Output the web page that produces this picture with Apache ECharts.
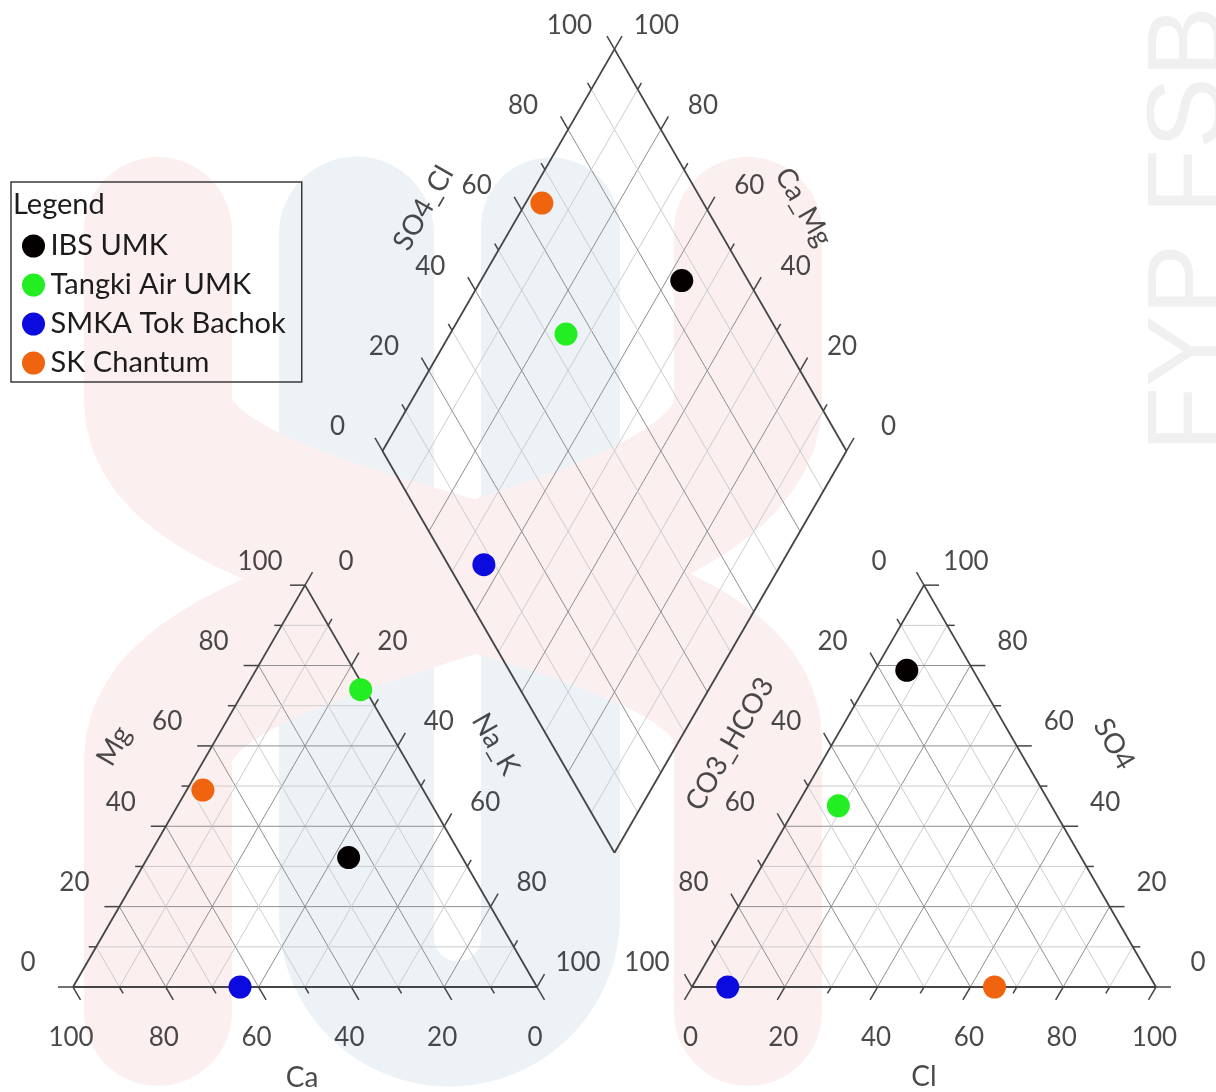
<!DOCTYPE html>
<html><head><meta charset="utf-8">
<script src="https://cdn.jsdelivr.net/npm/echarts@6/dist/echarts.min.js"></script>
<style>html,body{margin:0;padding:0;background:#fff}#c{width:1216px;height:1092px}</style>
</head><body><div id="c"></div>
<script>
// ---------------- DATA ----------------
const samples = ['IBS UMK', 'Tangki Air UMK', 'SMKA Tok Bachok', 'SK Chantum'];
const sampleColors = ['#050000', '#22ee22', '#0b0be0', '#f0640f'];
// cations (% meq)
const ca  = [24.5, 1, 64, 47.5];
const mg  = [32.2, 74, 0, 49];
const naK = [43.3, 25, 36, 3.5];
// anions (% meq)
const co3Hco3 = [14.3, 45.9, 92.3, 34.8];
const so4     = [78.8, 45.1, 0, 0];
const cl      = [6.9, 9.0, 7.7, 65.2];
// axes
const gridValues  = [10, 20, 30, 40, 50, 60, 70, 80, 90];
const tickValues  = [0, 10, 20, 30, 40, 50, 60, 70, 80, 90, 100];
const labelValues = [0, 20, 40, 60, 80, 100];

// ---------------- LAYOUT ----------------
const FONT = 'Lato, "Open Sans", sans-serif';
const TEXT = '#1c1c1c';
const SQ3 = Math.sqrt(3);
const S = 100, H = S * SQ3 / 2, GAP = 33.4;
const PX = 4.64, ORIGIN = [73, 987], W = 1216, HT = 1092;
const MAJ = 15 / PX, MIN = 7.5 / PX;

const LT = { bl: [0, 0], ap: [S / 2, H], br: [S, 0] };
const RT = { bl: [S + GAP, 0], ap: [1.5 * S + GAP, H], br: [2 * S + GAP, 0] };
const DB = [S + GAP / 2, GAP / 2 * SQ3];
const DL = [DB[0] - S / 2, DB[1] + H], DR = [DB[0] + S / 2, DB[1] + H], DT = [DB[0], DB[1] + 2 * H];

function tern(t, a, b, c) { // a at bl, b at apex, c at br
  return [(a * t.bl[0] + b * t.ap[0] + c * t.br[0]) / 100, (a * t.bl[1] + b * t.ap[1] + c * t.br[1]) / 100];
}
function dia(caMg, so4Cl) {
  return [DB[0] + caMg / 100 * (DL[0] - DB[0]) + so4Cl / 100 * (DR[0] - DB[0]),
          DB[1] + caMg / 100 * (DL[1] - DB[1]) + so4Cl / 100 * (DR[1] - DB[1])];
}

// ---------------- LINE SEGMENTS ----------------
const segs = [];
function seg(p, q, k) { segs.push([p[0], p[1], q[0], q[1], k]); }
function tick(p, dir, v) {
  const L = (v % 20 === 0) ? MAJ : MIN;
  seg(p, [p[0] + dir[0] * L, p[1] + dir[1] * L], 3);
}
const DR_ = [0.5, -SQ3 / 2], DLft = [-1, 0], UR = [0.5, SQ3 / 2], DLw = [-0.5, -SQ3 / 2], UL = [-0.5, SQ3 / 2], RGT = [1, 0];

gridValues.forEach(v => {
  const k = v % 20 === 0 ? 1 : 2;
  seg(tern(LT, v, 0, 100 - v), tern(LT, v, 100 - v, 0), k);
  seg(tern(LT, 100 - v, v, 0), tern(LT, 0, v, 100 - v), k);
  seg(tern(LT, 100 - v, 0, v), tern(LT, 0, 100 - v, v), k);
  seg(tern(RT, v, 0, 100 - v), tern(RT, v, 100 - v, 0), k);
  seg(tern(RT, 100 - v, v, 0), tern(RT, 0, v, 100 - v), k);
  seg(tern(RT, 100 - v, 0, v), tern(RT, 0, 100 - v, v), k);
  seg(dia(0, v), dia(100, v), k);
  seg(dia(v, 0), dia(v, 100), k);
});
[[LT.bl, LT.ap], [LT.ap, LT.br], [LT.br, LT.bl],
 [RT.bl, RT.ap], [RT.ap, RT.br], [RT.br, RT.bl],
 [DB, DL], [DL, DT], [DT, DR], [DR, DB]].forEach(e => seg(e[0], e[1], 0));
tickValues.forEach(v => {
  tick(tern(LT, v, 0, 100 - v), DR_, v);     // Ca
  tick(tern(LT, 100 - v, v, 0), DLft, v);    // Mg
  tick(tern(LT, 0, 100 - v, v), UR, v);      // Na_K
  tick(tern(RT, 100 - v, 0, v), DLw, v);     // Cl
  tick(tern(RT, v, 100 - v, 0), UL, v);      // CO3_HCO3
  tick(tern(RT, 0, v, 100 - v), RGT, v);     // SO4
  tick(dia(100, v), UL, v);                  // SO4_Cl
  tick(dia(v, 100), UR, v);                  // Ca_Mg
});

// ---------------- LABELS ----------------
const labels = [];
function lab(p, text, off) {
  labels.push({ value: p, label: { formatter: text, offset: off } });
}
// axis titles: anchor moved by a pixel offset (converted to units), no label offset
function title(p, text, off, rot) {
  labels.push({ value: [p[0] + off[0] / PX, p[1] - off[1] / PX],
                label: { formatter: text, offset: [0, 0], rotate: rot || 0, fontSize: 28 } });
}
labelValues.forEach(v => {
  lab(tern(LT, v, 0, 100 - v), String(v), [-2, 51]);
  lab(tern(LT, 100 - v, v, 0), String(v), [-45, -24]);
  lab(tern(LT, 0, 100 - v, v), String(v), [41, -24]);
  lab(tern(RT, 100 - v, 0, v), String(v), [-1.5, 51]);
  lab(tern(RT, v, 100 - v, 0), String(v), [-45, -24]);
  lab(tern(RT, 0, v, 100 - v), String(v), [42, -24]);
  lab(dia(100, v), String(v), [-45, -24]);
  lab(dia(v, 100), String(v), [42, -24]);
});
title(tern(LT, 50, 0, 50), 'Ca', [-3, 91]);
title(tern(LT, 50, 50, 0), 'Mg', [-75, -40], 60);
title(tern(LT, 0, 50, 50), 'Na_K', [74.5, -42], -60);
title(tern(RT, 50, 0, 50), 'Cl', [0, 90]);
title(tern(RT, 50, 50, 0), 'CO3_HCO3', [-78, -42], 60);
title(tern(RT, 0, 50, 50), 'SO4', [74, -42], -60);
title(dia(100, 50), 'SO4_Cl', [-75, -42], 60);
title(dia(50, 100), 'Ca_Mg', [73, -43], -60);

// ---------------- SAMPLE SERIES ----------------
const sampleSeries = samples.map((name, i) => ({
  name, type: 'scatter', symbol: 'circle', symbolSize: 23, z: 5,
  itemStyle: { color: sampleColors[i], opacity: 1 },
  data: [
    tern(LT, ca[i], mg[i], naK[i]),
    dia(100 - naK[i], so4[i] + cl[i]),
    tern(RT, co3Hco3[i], so4[i], cl[i])
  ]
}));

const lineStyles = [
  { stroke: '#454545', lineWidth: 1.8 },
  { stroke: '#8f8f8f', lineWidth: 1 },
  { stroke: '#cdcdcd', lineWidth: 1 },
  { stroke: '#454545', lineWidth: 1.5 }
];

// ---------------- WATERMARK (decoration, pixel space) ----------------
function arcPts(cx, cy, r, a0, a1, n) {
  const out = [];
  for (let i = 0; i <= n; i++) { const a = a0 + (a1 - a0) * i / n; out.push([cx + r * Math.cos(a), cy + r * Math.sin(a)]); }
  return out;
}
function bez(p0, p1, p2, p3, n) {
  const out = [];
  for (let i = 0; i <= n; i++) {
    const t = i / n, u = 1 - t;
    out.push([u*u*u*p0[0] + 3*u*u*t*p1[0] + 3*u*t*t*p2[0] + t*t*t*p3[0],
              u*u*u*p0[1] + 3*u*u*t*p1[1] + 3*u*t*t*p2[1] + t*t*t*p3[1]]);
  }
  return out;
}
const uShape = [].concat(
  arcPts(356.5, 234, 77.5, Math.PI, 2 * Math.PI, 30),
  arcPts(457.5, 938, 23.5, Math.PI, 0, 16),
  arcPts(550.5, 227, 69.5, Math.PI, 2 * Math.PI, 30),
  arcPts(449.5, 916, 170.5, 0, Math.PI, 50)
);
const bandA = [[158, 231]].concat(bez([158, 400], [158, 570], [748, 570], [748, 740], 40), [[748, 1012]]);
const bandB = [[748, 231]].concat(bez([748, 400], [748, 580], [158, 590], [158, 760], 40), [[158, 1012]]);

const chart = echarts.init(document.getElementById('c'), null, { renderer: 'canvas' });
chart.setOption({
  animation: false,
  backgroundColor: '#ffffff',
  grid: { left: 0, right: 0, top: 0, bottom: 0 },
  xAxis: { type: 'value', min: -ORIGIN[0] / PX, max: (W - ORIGIN[0]) / PX, show: false },
  yAxis: { type: 'value', min: -(HT - ORIGIN[1]) / PX, max: ORIGIN[1] / PX, show: false },
  legend: {
    data: samples, orient: 'vertical', left: 11, top: 182,
    padding: [48, 16, 3, 11], itemWidth: 24, itemHeight: 23, itemGap: 7,
    icon: 'circle', borderColor: '#3a3a3a', borderWidth: 1.5, selectedMode: false,
    textStyle: { fontFamily: FONT, fontSize: 29, color: TEXT, lineHeight: 32 }
  },
  graphic: [
    { type: 'polygon', z: -10, silent: true, shape: { points: uShape },
      style: { fill: '#edf2f7' } },
    { type: 'polyline', z: -9, silent: true, shape: { points: bandA },
      style: { fill: null, stroke: '#fcefef', lineWidth: 148, lineCap: 'round', lineJoin: 'round' } },
    { type: 'polyline', z: -9, silent: true, shape: { points: bandB },
      style: { fill: null, stroke: '#fcefef', lineWidth: 148, lineCap: 'round', lineJoin: 'round' } },
    { type: 'text', z: -8, silent: true, x: 1192, y: 452, rotation: Math.PI / 2,
      style: { text: 'FYP FSB', fontFamily: '"Liberation Sans", Arial, sans-serif', fontSize: 107,
               fill: '#f0f0f0', align: 'left', textAlign: 'left', verticalAlign: 'middle', textVerticalAlign: 'middle' } },
    { type: 'text', z: 10, silent: true, x: 13, y: 205,
      style: { text: 'Legend', fontFamily: FONT, fontSize: 29, fill: TEXT,
               align: 'left', textAlign: 'left', verticalAlign: 'middle', textVerticalAlign: 'middle' } }
  ],
  series: [
    { type: 'custom', coordinateSystem: 'cartesian2d', silent: true, z: 1, clip: false,
      data: segs, encode: { x: [0, 2], y: [1, 3] },
      renderItem: function (params, api) {
        const p1 = api.coord([api.value(0), api.value(1)]);
        const p2 = api.coord([api.value(2), api.value(3)]);
        const st = lineStyles[api.value(4)];
        return { type: 'line', shape: { x1: p1[0], y1: p1[1], x2: p2[0], y2: p2[1] },
                 style: { stroke: st.stroke, lineWidth: st.lineWidth, fill: null } };
      } },
    { type: 'scatter', silent: true, z: 3, symbol: 'circle', symbolSize: 0, data: labels,
      label: { show: true, position: 'inside', align: 'center', verticalAlign: 'middle',
               fontFamily: FONT, fontSize: 26, color: TEXT } },
    ...sampleSeries
  ]
});
</script></body></html>
